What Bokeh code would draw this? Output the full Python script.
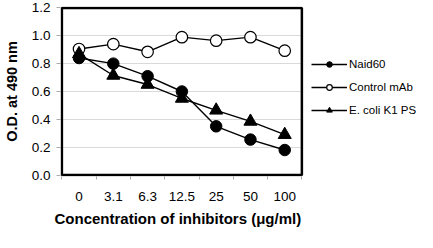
from bokeh.plotting import figure
from bokeh.models import FixedTicker, Legend, LegendItem, Range1d, BoxAnnotation, Title
from bokeh.embed import file_html
from bokeh.resources import INLINE

categories = ["0", "3.1", "6.3", "12.5", "25", "50", "100"]
naid60 = [0.84, 0.80, 0.71, 0.60, 0.35, 0.255, 0.18]
control_mab = [0.905, 0.94, 0.885, 0.99, 0.965, 0.99, 0.893]
ecoli_k1_ps = [0.87, 0.715, 0.65, 0.55, 0.465, 0.385, 0.29]
y_ticks = [0.0, 0.2, 0.4, 0.6, 0.8, 1.0, 1.2]
y_max = 1.2

xs = [i + 0.5 for i in range(len(categories))]
n = len(categories)

FONT = "Liberation Sans"

# layout (pixels)
W, H = 417, 232
LEFT, TOP, BOTTOM = 57, 6, 56
PLOT_W = 242                      # width of the boxed plot area
frame_w = W - LEFT
px_per_unit = PLOT_W / n
pad_x = 1.4 / px_per_unit
x_end = -pad_x + frame_w / px_per_unit
frame_h = H - TOP - BOTTOM
pad_y = 1.4 * y_max / (frame_h - 2.8)

p = figure(width=W, height=H, output_backend="svg", toolbar_location=None,
           x_range=Range1d(-pad_x, x_end), y_range=Range1d(-pad_y, y_max + pad_y),
           min_border_left=LEFT, min_border_right=0, min_border_top=TOP,
           min_border_bottom=BOTTOM)
p.background_fill_color = "white"
p.border_fill_color = "white"
p.outline_line_color = None

# x axis: labels at centres, ticks at boundaries
p.xaxis.ticker = FixedTicker(ticks=xs, minor_ticks=list(range(n + 1)))
p.xaxis.major_label_overrides = {x: c for x, c in zip(xs, categories)}
p.xaxis.major_tick_line_color = None
p.xaxis.major_tick_out = 0
p.xaxis.major_tick_in = 0
p.xaxis.minor_tick_line_color = "#aaaaaa"
p.xaxis.minor_tick_out = 3
p.xaxis.minor_tick_in = 0
p.xaxis.axis_line_color = None
p.xaxis.major_label_standoff = 12
p.xaxis.major_label_text_font = FONT
p.xaxis.major_label_text_font_size = "13.5px"
p.xaxis.major_label_text_color = "black"

xlabel = Title(text="Concentration of inhibitors (\u03bcg/ml)", align="left",
               offset=-6, standoff=9,
               text_font=FONT, text_font_style="bold", text_font_size="15px",
               text_color="black")
p.add_layout(xlabel, "below")

p.yaxis.ticker = FixedTicker(ticks=y_ticks, minor_ticks=[])
p.yaxis.major_label_overrides = {t: f"{t:.1f}" for t in y_ticks}
p.yaxis.major_tick_line_color = "#aaaaaa"
p.yaxis.major_tick_out = 4
p.yaxis.major_tick_in = 0
p.yaxis.axis_line_color = None
p.yaxis.major_label_standoff = 6
p.yaxis.major_label_text_font = FONT
p.yaxis.major_label_text_font_size = "13.5px"
p.yaxis.major_label_text_color = "black"
p.yaxis.axis_label = "O.D. at 490 nm"
p.yaxis.axis_label_text_font = FONT
p.yaxis.axis_label_text_font_style = "bold"
p.yaxis.axis_label_text_font_size = "14.5px"
p.yaxis.axis_label_text_color = "black"
p.yaxis.axis_label_standoff = 9

p.xgrid.grid_line_color = None
p.ygrid.ticker = FixedTicker(ticks=y_ticks)
p.ygrid.cross_bounds = (0, n)
p.ygrid.grid_line_color = "#d9d9d9"
p.ygrid.grid_line_width = 1

box = BoxAnnotation(left=0, right=n, bottom=0, top=y_max, fill_alpha=0,
                    line_color="black", line_width=2.5, line_alpha=1)
p.add_layout(box)

l1 = p.line(xs, naid60, line_color="black", line_width=1.4)
s1 = p.scatter(xs, naid60, marker="circle", size=11.5, fill_color="black", line_color="black")
l2 = p.line(xs, control_mab, line_color="black", line_width=1.4)
s2 = p.scatter(xs, control_mab, marker="circle", size=11.5, fill_color="white", line_color="black", line_width=1.2)
l3 = p.line(xs, ecoli_k1_ps, line_color="black", line_width=1.4)
s3 = p.scatter(xs, ecoli_k1_ps, marker="triangle", size=13, fill_color="black", line_color="black")

legend = Legend(items=[
    LegendItem(label="Naid60", renderers=[l1, s1]),
    LegendItem(label="Control mAb", renderers=[l2, s2]),
    LegendItem(label="E. coli K1 PS", renderers=[l3, s3]),
], location=(251, 59), orientation="vertical")
legend.border_line_color = None
legend.background_fill_alpha = 0
legend.padding = 0
legend.margin = 0
legend.spacing = 9
legend.glyph_width = 36
legend.glyph_height = 14
legend.label_height = 14
legend.label_standoff = 2
legend.label_text_font = FONT
legend.label_text_font_size = "11.5px"
legend.label_text_color = "black"
p.add_layout(legend, "center")

open("out.html", "w").write(file_html(p, INLINE))
